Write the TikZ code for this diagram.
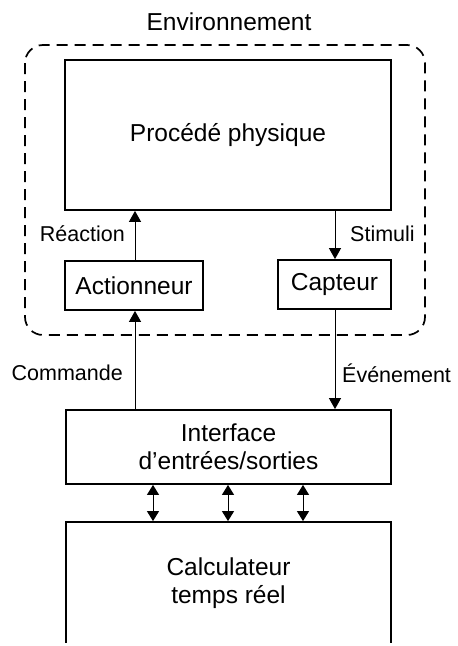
\documentclass[tikz,border=0pt]{standalone}
\usepackage{fontspec}
\setmainfont{Liberation Sans}
\usetikzlibrary{arrows.meta}
\begin{document}
\begin{tikzpicture}[x=1pt,y=-1pt,
  every node/.style={font=\fontsize{24.5}{28}\selectfont, inner sep=0pt},
  blk/.style={draw, line width=1.8pt, rectangle},
  lbl/.style={text=black, font=\fontsize{21.5}{25}\selectfont},
  arr/.style={line width=1pt, -{Triangle[width=12pt,length=11pt]}},
  darr/.style={line width=1pt, {Triangle[width=12pt,length=10pt]}-{Triangle[width=12pt,length=10pt]}},
  envbox/.style={draw, line width=1.7pt, dash pattern=on 11pt off 7pt, rounded corners=18pt}]
\useasboundingbox (0,0) rectangle (458,646);
\node (envlbl) at (229,22) {Environnement};
\draw[envbox] (25,45) rectangle (425,335);
\node[blk, minimum width=326, minimum height=150] (proc) at (228,135) {Procédé physique};
\node[blk, minimum width=138, minimum height=49] (act) at (134,285.5) {Actionneur};
\node[blk, minimum width=113, minimum height=49] (cap) at (334.5,284.5) {Capteur};
\node[blk, minimum width=325, minimum height=74, align=center] (io) at (228.5,447) {Interface\\d’entrées/sorties};
\begin{scope}
\clip (0,0) rectangle (458,642);
\node[blk, minimum width=325, minimum height=122, align=center] (calc) at (228.5,583) {Calculateur\\temps réel};
\end{scope}
\coordinate (a1) at (135,0);
\coordinate (a2) at (335,0);
\draw[arr] (act.north -| a1) -- (proc.south -| a1);
\draw[arr] (proc.south -| a2) -- (cap.north -| a2);
\draw[arr] (io.north -| a1) -- (act.south -| a1);
\draw[arr] (cap.south -| a2) -- (io.north -| a2);
\coordinate (b1) at (153,0);
\coordinate (b2) at (228,0);
\coordinate (b3) at (303,0);
\draw[darr] (io.south -| b1) -- (calc.north -| b1);
\draw[darr] (io.south -| b2) -- (calc.north -| b2);
\draw[darr] (io.south -| b3) -- (calc.north -| b3);
\node[lbl, anchor=east] (reac) at (125,234) {Réaction};
\node[lbl, anchor=west] (stim) at (350,234) {Stimuli};
\node[lbl, anchor=east] (cmd) at (123,373) {Commande};
\node[lbl, anchor=west] (evt) at (342,373) {Événement};
\end{tikzpicture}
\end{document}
